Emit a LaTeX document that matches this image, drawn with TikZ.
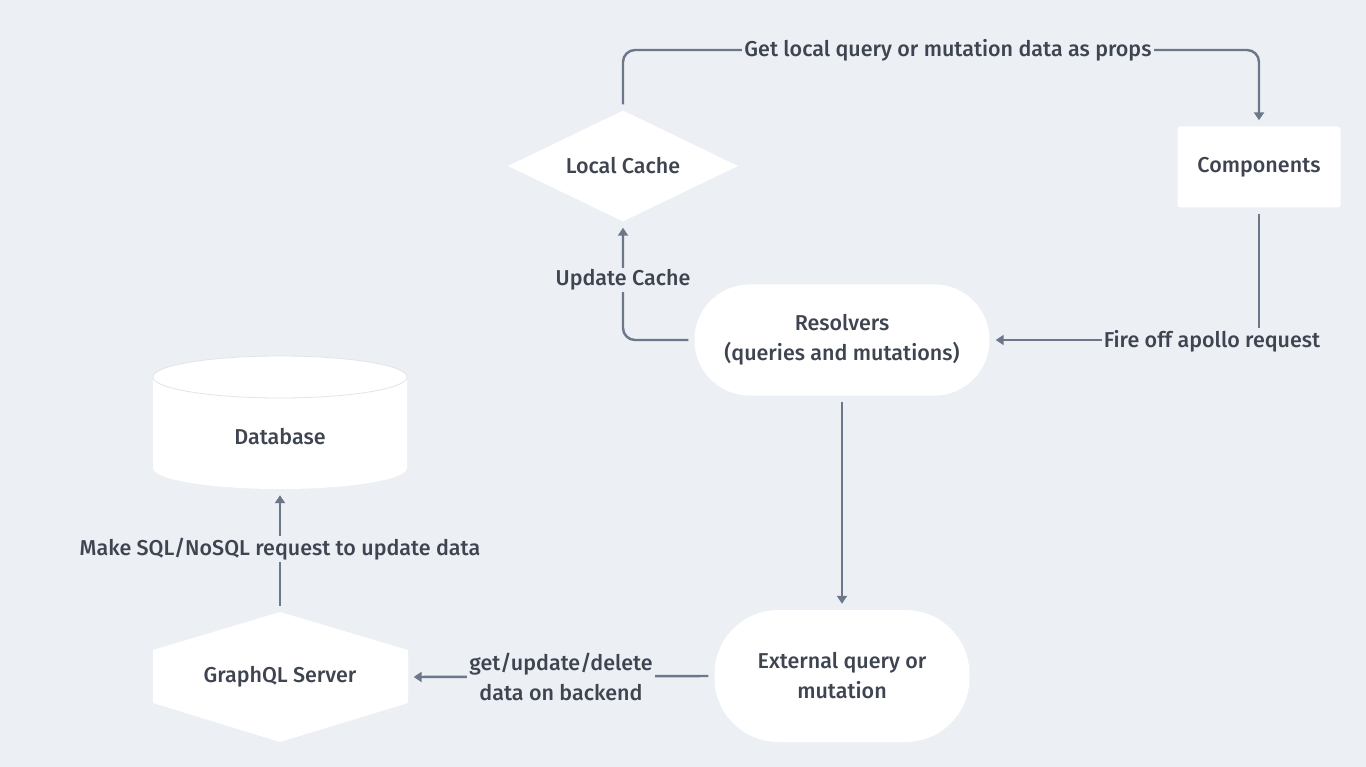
\documentclass[tikz,border=0pt]{standalone}
\usepackage{fontspec}
\setmainfont{Fira Sans Medium}
\usetikzlibrary{shapes.geometric,arrows.meta,calc}
\definecolor{bg}{HTML}{ECEFF4}
\definecolor{ln}{HTML}{6C7789}
\definecolor{tx}{HTML}{3E4450}
\definecolor{rim}{HTML}{E1E4EA}
\tikzset{
  x=1pt,y=-1pt,
  every node/.style={font=\fontsize{21.5}{30}\selectfont, text=tx, align=center},
  conn/.style={draw=ln, line width=2.4pt, shorten <=6pt, shorten >=6pt, -{Triangle[width=10pt,length=8pt]}},
  lbl/.style={fill=bg, inner sep=2pt},
  diam/.style={diamond, aspect=2.07, fill=white, minimum width=230, minimum height=111, inner sep=0pt},
  box/.style={rectangle, fill=white, rounded corners=3pt, minimum width=163, minimum height=81},
  pill/.style={rectangle, fill=white},
  ghost/.style={rectangle, inner sep=0pt}
}
\begin{document}
\begin{tikzpicture}
\useasboundingbox (0,0) rectangle (1366,767);
\fill[bg] (0,0) rectangle (1366,767);

% nodes
\node[diam] (lc) at (623,166) {Local Cache};
\node[box] (comp) at (1259,167) {Components};
\node[pill, rounded corners=55, minimum width=295, minimum height=111] (res) at (842,340) {Resolvers\\(queries and mutations)};
\node[pill, rounded corners=64, minimum width=255, minimum height=132] (ext) at (842,676) {External query or\\mutation};

% database cylinder
\fill[white] (153,377) -- (153,468) arc[start angle=180, end angle=0, x radius=127, y radius=21]
  -- (407,377) arc[start angle=0, end angle=-180, x radius=127, y radius=21] -- cycle;
\draw[rim, line width=0.8pt] (280,377) ellipse [x radius=127, y radius=21];
\node[ghost, minimum width=255, minimum height=104] (db) at (280,437) {Database};

% graphql hexagon
\coordinate (gc) at (280,677);
\fill[white] ($(gc)+(-127,-27)$) -- ($(gc)+(0,-65)$) -- ($(gc)+(128,-27)$)
  -- ($(gc)+(128,26)$) -- ($(gc)+(0,65)$) -- ($(gc)+(-127,26)$) -- cycle;
\node[ghost, minimum width=255, minimum height=130] (gql) at (gc) {GraphQL Server};

% connectors
\draw[conn, rounded corners=12pt] (lc.north) -- (623,50) -- (1259,50) -- (comp.north);
\node[lbl] (l1) at (948,50) {Get local query or mutation data as props};

\draw[conn] (comp.south) |- (res.east);
\node[lbl] (l2) at (1212,341) {Fire off apollo request};

\draw[conn, rounded corners=12pt] (res.west) -| (lc.south);
\node[lbl] (l3) at (623,280) {Update Cache};

\draw[conn] (res.south) -- (ext.north);

\draw[conn] (ext.west) -- (gql.east);
\node[lbl] (l4) at (561,677) {get/update/delete\\data on backend};

\draw[conn] (gql.north) -- (db.south);
\node[lbl] (l5) at (280,549) {Make SQL/NoSQL request to update data};
\end{tikzpicture}
\end{document}
